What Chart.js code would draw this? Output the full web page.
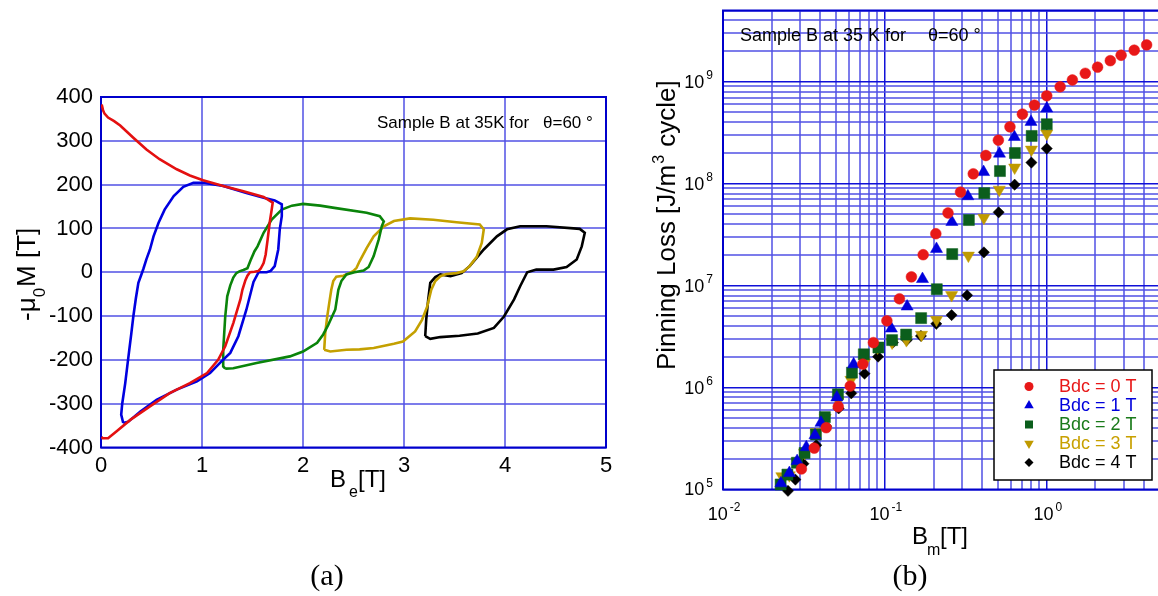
<!DOCTYPE html>
<html>
<head>
<meta charset="utf-8">
<script src="https://cdn.jsdelivr.net/npm/chart.js@4/dist/chart.umd.min.js"></script>
<style>
  html, body { margin: 0; padding: 0; background: #fff; overflow: hidden; width: 1158px; height: 596px; }
  #wrap { position: relative; width: 1158px; height: 596px; overflow: hidden; }
  #left { position: absolute; left: 0; top: 0; }
  #right { position: absolute; left: 640px; top: 0; }
</style>
</head>
<body>
<div id="wrap">
  <canvas id="left" width="640" height="596"></canvas>
  <canvas id="right" width="530" height="596"></canvas>
</div>
<script>
// ---------------- DATA: panel (a) hysteresis loops (B_e [T], -mu0 M [T]) ----------------
const redB = [0.007, 0.02, 0.035, 0.07, 0.13, 0.19, 0.32, 0.45, 0.58, 0.75, 0.88, 1.01, 1.21, 1.41, 1.61, 1.70,
  1.69, 1.67, 1.65, 1.63, 1.61, 1.58, 1.56, 1.52, 1.475, 1.45, 1.43, 1.40, 1.38, 1.31, 1.23, 1.16, 1.05, 0.88, 0.68, 0.485, 0.29, 0.155, 0.07, 0.017, 0.005];
const redM = [383, 370, 362, 353, 345, 335, 307, 280, 258, 235, 221, 210, 197, 185, 172, 159,
  143, 113, 75, 40, 21, 8, 3, 1, 0, -8, -18, -40, -62, -116, -169, -200, -230, -253, -276, -306, -337, -363, -379, -379, -376];

const blueB = [0.22, 0.20, 0.21, 0.24, 0.26, 0.28, 0.30, 0.32, 0.345, 0.37, 0.40, 0.42, 0.45, 0.485, 0.52, 0.57, 0.63, 0.72, 0.815, 0.915, 1.03, 1.21, 1.44, 1.61, 1.72, 1.79,
  1.79, 1.77, 1.755, 1.72, 1.68, 1.64, 1.56, 1.51, 1.49, 1.44, 1.36, 1.28, 1.195, 1.08, 0.95, 0.75, 0.55, 0.39, 0.27, 0.22];
const blueM = [-344, -325, -300, -253, -215, -177, -140, -101, -60, -24, -5, 8, 30, 52, 82, 113, 143, 174, 195, 204, 204, 197, 181, 170, 164, 155,
  128, 98, 52, 14, 3, 0, 0, -22, -40, -85, -146, -184, -203, -230, -249, -268, -291, -318, -341, -344];

const greenB = [1.23, 1.21, 1.21, 1.23, 1.25, 1.28, 1.31, 1.34, 1.37, 1.41, 1.45, 1.48, 1.52, 1.55, 1.61, 1.69, 1.79, 1.89, 2.0, 2.17, 2.31, 2.63, 2.76, 2.80,
  2.78, 2.75, 2.70, 2.65, 2.60, 2.51, 2.43, 2.38, 2.35, 2.32, 2.25, 2.20, 2.14, 2.0, 1.87, 1.54, 1.31, 1.23];
const greenM = [-220, -215, -177, -101, -55, -30, -12, -2, 2, 5, 9, 27, 48, 59, 90, 120, 143, 152, 156, 152, 147, 136, 128, 116,
  105, 75, 37, 12, 4, 0, -5, -20, -40, -85, -120, -142, -161, -181, -192, -207, -219, -220];

const goldB = [2.21, 2.22, 2.24, 2.26, 2.28, 2.30, 2.33, 2.40, 2.45, 2.50, 2.53, 2.56, 2.63, 2.70, 2.80, 2.90, 3.06, 3.29, 3.52, 3.75, 3.79,
  3.77, 3.72, 3.65, 3.59, 3.52, 3.42, 3.36, 3.31, 3.27, 3.23, 3.18, 3.11, 2.99, 2.90, 2.70, 2.56, 2.43, 2.27, 2.21];
const goldM = [-177, -139, -101, -70, -40, -20, -10, -8, -3, 3, 10, 25, 55, 82, 105, 117, 123, 120, 114, 109, 98,
  67, 35, 14, 2, -2, -4, -9, -20, -40, -78, -108, -135, -158, -163, -173, -176, -177, -181, -177];

const blackB = [3.21, 3.22, 3.24, 3.26, 3.31, 3.36, 3.46, 3.52, 3.57, 3.65, 3.79, 3.92, 4.02, 4.15, 4.41, 4.74, 4.79,
  4.76, 4.71, 4.61, 4.48, 4.31, 4.22, 4.15, 4.09, 3.99, 3.89, 3.73, 3.55, 3.36, 3.26, 3.21];
const blackM = [-146, -108, -62, -24, -11, -5, -9, -5, -2, 14, 52, 82, 98, 105, 105, 99, 90,
  59, 29, 12, 6, 6, 0, -32, -62, -101, -127, -140, -145, -148, -152, -146];

const leftXTicks = [0, 1, 2, 3, 4, 5];
const leftYTicks = [-400, -300, -200, -100, 0, 100, 200, 300, 400];

// ---------------- DATA: panel (b) pinning loss (B_m [T], J/m^3 cycle) ----------------
const seriesNames = ['Bdc = 0 T', 'Bdc = 1 T', 'Bdc = 2 T', 'Bdc = 3 T', 'Bdc = 4 T'];

const bm0 = [0.0305, 0.0366, 0.0434, 0.0515, 0.0611, 0.0731, 0.0849, 0.1029, 0.123, 0.1459, 0.1724, 0.2064, 0.2455, 0.2934, 0.3516, 0.4207, 0.5024, 0.5925, 0.7072, 0.8392, 1.0, 1.21, 1.44, 1.73, 2.06, 2.47, 2.88, 3.47, 4.14];
const loss0 = [1.59e5, 2.55e5, 4.04e5, 6.5e5, 1.035e6, 1.70e6, 2.76e6, 4.52e6, 7.43e6, 1.22e7, 2.01e7, 3.23e7, 5.16e7, 8.27e7, 1.25e8, 1.89e8, 2.67e8, 3.61e8, 4.81e8, 5.9e8, 7.28e8, 8.93e8, 1.04e9, 1.21e9, 1.39e9, 1.61e9, 1.82e9, 2.04e9, 2.3e9];

const bm1 = [0.0228, 0.0257, 0.0287, 0.0327, 0.0370, 0.0403, 0.0505, 0.0641, 0.1097, 0.1372, 0.1707, 0.2084, 0.2593, 0.3256, 0.4073, 0.5103, 0.631, 0.7994, 1.0];
const loss1 = [1.15e5, 1.45e5, 1.9e5, 2.6e5, 3.4e5, 4.51e5, 8.0e5, 1.69e6, 3.79e6, 6.24e6, 1.16e7, 2.29e7, 4.21e7, 7.53e7, 1.30e8, 1.97e8, 2.87e8, 4.04e8, 5.47e8];

const bm2 = [0.0227, 0.0250, 0.0286, 0.0319, 0.0375, 0.0426, 0.0513, 0.0626, 0.0741, 0.0912, 0.1108, 0.1353, 0.1675, 0.2093, 0.2607, 0.3303, 0.4113, 0.514, 0.636, 0.807, 1.0];
const loss2 = [1.12e5, 1.40e5, 1.83e5, 2.28e5, 3.46e5, 5.13e5, 8.58e5, 1.40e6, 2.12e6, 2.47e6, 2.92e6, 3.31e6, 4.8e6, 9.22e6, 2.04e7, 4.4e7, 8.08e7, 1.33e8, 2.0e8, 2.94e8, 3.83e8];

const bm3 = [0.0231, 0.0257, 0.0286, 0.0319, 0.0375, 0.0428, 0.0515, 0.0617, 0.0749, 0.0902, 0.1108, 0.1358, 0.1683, 0.2084, 0.2584, 0.328, 0.409, 0.509, 0.6335, 0.804, 1.0];
const loss3 = [1.35e5, 1.38e5, 1.86e5, 2.28e5, 3.67e5, 5.05e5, 7.48e5, 1.19e6, 1.77e6, 2.47e6, 2.76e6, 2.92e6, 3.29e6, 4.62e6, 8.08e6, 1.97e7, 4.63e7, 8.73e7, 1.44e8, 2.16e8, 3.1e8];

const bm4 = [0.0252, 0.0280, 0.0314, 0.0377, 0.0434, 0.0518, 0.0620, 0.0749, 0.0908, 0.1121, 0.1368, 0.167, 0.2078, 0.2584, 0.322, 0.409, 0.5046, 0.6335, 0.804, 1.0];
const loss4 = [9.7e4, 1.25e5, 1.79e5, 2.72e5, 4.18e5, 6.24e5, 8.77e5, 1.37e6, 2.01e6, 2.76e6, 2.93e6, 3.21e6, 4.22e6, 5.14e6, 8.03e6, 2.12e7, 5.24e7, 9.78e7, 1.61e8, 2.21e8];

const rightXDecades = [0.01, 0.1, 1];
const rightYDecades = [1e5, 1e6, 1e7, 1e8, 1e9];
const logMultipliers = [1, 2, 3, 4, 5, 6, 7, 8, 9];
const rightXMax = 5, rightYMax = 5e9;

// ---------------- styling ----------------
const FONT = '"Liberation Sans", Arial, Helvetica, sans-serif';
const SERIF = '"Liberation Serif", "Times New Roman", serif';
const GRID = 'rgba(80,80,228,0.75)';
const AXIS = '#0000cc';

function pts(xs, ys) { return xs.map((v, i) => ({ x: v, y: ys[i] })); }
function isDecade(v) { const l = Math.log10(v); return Math.abs(l - Math.round(l)) < 1e-9; }
function logTicks(decades, max) {
  const out = [];
  decades.forEach(d => logMultipliers.forEach(m => { const v = d * m; if (v <= max * 1.0000001) out.push({ value: v }); }));
  const lastDec = decades[decades.length - 1] * 10;
  if (lastDec <= max) out.push({ value: lastDec });
  return out;
}

// ================= LEFT CHART =================
const leftCurves = [
  { B: redB, M: redM, color: '#e41010' },
  { B: blueB, M: blueM, color: '#0000e0' },
  { B: greenB, M: greenM, color: '#0a840a' },
  { B: goldB, M: goldM, color: '#c4a000' },
  { B: blackB, M: blackM, color: '#000000' }
];

const leftDeco = {
  id: 'leftDeco',
  beforeDatasetsDraw(chart) {
    const { ctx, chartArea: a } = chart;
    ctx.save();
    ctx.strokeStyle = AXIS; ctx.lineWidth = 2;
    ctx.strokeRect(a.left, a.top, a.right - a.left, a.bottom - a.top);
    ctx.restore();
  },
  afterDraw(chart) {
    const { ctx } = chart;
    ctx.save();
    ctx.fillStyle = '#000';
    ctx.textBaseline = 'middle';
    // annotation
    ctx.font = '17px ' + FONT;
    ctx.textAlign = 'left';
    ctx.fillText('Sample B at 35K for', 377, 123);
    ctx.fillText('\u03B8=60 \u00B0', 543, 123);
    // x title  B_e [T]
    ctx.font = '24px ' + FONT;
    ctx.fillText('B', 330, 480);
    let w = ctx.measureText('B').width;
    ctx.font = '16px ' + FONT;
    ctx.fillText('e', 330 + w + 3, 493);
    ctx.font = '24px ' + FONT;
    ctx.fillText('[T]', 358, 480);
    // y title  -mu_0 M [T]
    ctx.translate(28, 321);
    ctx.rotate(-Math.PI / 2);
    ctx.font = '26px ' + FONT;
    ctx.fillText('-\u03BC', 0, 0);
    w = ctx.measureText('-\u03BC').width;
    ctx.font = '17px ' + FONT;
    ctx.fillText('0', w, 12);
    const w2 = ctx.measureText('0').width;
    ctx.font = '26px ' + FONT;
    ctx.fillText('M [T]', w + w2 + 1, 0);
    ctx.restore();
    // caption
    ctx.save();
    ctx.fillStyle = '#000';
    ctx.font = '30px ' + SERIF;
    ctx.textAlign = 'center';
    ctx.textBaseline = 'middle';
    ctx.fillText('(a)', 327, 577);
    ctx.restore();
  }
};

new Chart(document.getElementById('left'), {
  type: 'scatter',
  data: {
    datasets: leftCurves.map(c => ({
      data: pts(c.B, c.M),
      showLine: true,
      borderColor: c.color,
      backgroundColor: c.color,
      borderWidth: 2.6,
      pointRadius: 0,
      tension: 0,
      fill: false
    }))
  },
  options: {
    responsive: false,
    devicePixelRatio: 1,
    animation: false,
    layout: { padding: { left: 0, top: 97, right: 34, bottom: 0 } },
    plugins: { legend: { display: false }, tooltip: { enabled: false } },
    scales: {
      x: {
        type: 'linear', min: 0, max: 5,
        afterBuildTicks: s => { s.ticks = leftXTicks.map(v => ({ value: v })); },
        afterFit: s => { s.height = 148.5; },
        grid: { color: GRID, lineWidth: 2, drawTicks: false },
        border: { display: false },
        ticks: { color: '#000', font: { size: 22, family: FONT }, padding: 5, maxRotation: 0, autoSkip: false }
      },
      y: {
        type: 'linear', min: -400, max: 400,
        afterBuildTicks: s => { s.ticks = leftYTicks.map(v => ({ value: v })); },
        afterFit: s => { s.width = 101; },
        grid: { color: GRID, lineWidth: 2, drawTicks: false },
        border: { display: false },
        ticks: { color: '#000', font: { size: 22, family: FONT }, padding: 8, autoSkip: false }
      }
    }
  },
  plugins: [leftDeco]
});

// ================= RIGHT CHART =================
const rightSeries = [
  { B: bm0, L: loss0, color: '#e81818', text: '#e81818', style: 'circle', r: 5.4, rot: 0 },
  { B: bm1, L: loss1, color: '#0000dc', text: '#0000dc', style: 'triangle', r: 7, rot: 0 },
  { B: bm2, L: loss2, color: '#0b5e1c', text: '#1a7a1a', style: 'rect', r: 7.8, rot: 0 },
  { B: bm3, L: loss3, color: '#c09a00', text: '#c8a000', style: 'triangle', r: 7, rot: 180 },
  { B: bm4, L: loss4, color: '#000000', text: '#000000', style: 'rectRot', r: 5.6, rot: 0 }
];

function drawPow(ctx, exp, x, y, align) {
  ctx.font = '18px ' + FONT;
  const wb = ctx.measureText('10').width;
  ctx.font = '12px ' + FONT;
  const we = ctx.measureText(exp).width;
  const gap = 2;
  const total = wb + gap + we;
  const x0 = align === 'right' ? x - total : (align === 'center' ? x - total / 2 : x);
  ctx.textAlign = 'left';
  ctx.textBaseline = 'middle';
  ctx.font = '18px ' + FONT;
  ctx.fillText('10', x0, y);
  ctx.font = '12px ' + FONT;
  ctx.fillText(exp, x0 + wb + gap, y - 7);
}

function marker(ctx, style, x, y, r, rot, color) {
  ctx.save();
  ctx.fillStyle = color;
  ctx.beginPath();
  if (style === 'circle') {
    ctx.arc(x, y, r, 0, Math.PI * 2);
  } else if (style === 'triangle') {
    const s = rot ? -1 : 1;
    ctx.moveTo(x, y - s * r);
    ctx.lineTo(x + r * 0.866, y + s * r * 0.5);
    ctx.lineTo(x - r * 0.866, y + s * r * 0.5);
    ctx.closePath();
  } else if (style === 'rect') {
    ctx.rect(x - r, y - r, 2 * r, 2 * r);
  } else if (style === 'rectRot') {
    ctx.moveTo(x, y - r); ctx.lineTo(x + r, y); ctx.lineTo(x, y + r); ctx.lineTo(x - r, y);
    ctx.closePath();
  }
  ctx.fill();
  ctx.restore();
}

const rightDeco = {
  id: 'rightDeco',
  beforeDatasetsDraw(chart) {
    const { ctx, chartArea: a } = chart;
    ctx.save();
    ctx.strokeStyle = AXIS; ctx.lineWidth = 2;
    ctx.strokeRect(a.left, a.top, a.right - a.left, a.bottom - a.top);
    ctx.restore();
  },
  afterDraw(chart) {
    const { ctx, chartArea: a, scales } = chart;
    const xs = scales.x, ys = scales.y;
    ctx.save();
    ctx.fillStyle = '#000';
    // tick labels
    rightYDecades.forEach(v => {
      drawPow(ctx, String(Math.round(Math.log10(v))), a.left - 10, ys.getPixelForValue(v) + 1, 'right');
    });
    rightXDecades.forEach(v => {
      drawPow(ctx, String(Math.round(Math.log10(v))), xs.getPixelForValue(v) + 1, 515, 'center');
    });
    // annotation
    ctx.textAlign = 'left'; ctx.textBaseline = 'middle';
    ctx.font = '18px ' + FONT;
    ctx.fillText('Sample B at 35 K for', 100, 36);
    ctx.fillText('\u03B8=60 \u00B0', 288, 36);
    // x title B_m [T]
    ctx.font = '24px ' + FONT;
    ctx.fillText('B', 272, 537);
    ctx.font = '16px ' + FONT;
    ctx.fillText('m', 287, 551);
    ctx.font = '24px ' + FONT;
    ctx.fillText('[T]', 300, 537);
    // y title
    ctx.save();
    ctx.translate(35, 370);
    ctx.rotate(-Math.PI / 2);
    ctx.font = '26px ' + FONT;
    ctx.textBaseline = 'alphabetic';
    const t1 = 'Pinning Loss [J/m';
    ctx.fillText(t1, 0, 0);
    let w = ctx.measureText(t1).width;
    ctx.font = '16px ' + FONT;
    ctx.fillText('3', w + 1, -11);
    w += ctx.measureText('3').width + 2;
    ctx.font = '26px ' + FONT;
    ctx.fillText(' cycle]', w, 0);
    ctx.restore();
    // legend
    ctx.fillStyle = '#fff';
    ctx.fillRect(354, 370, 158, 110);
    ctx.strokeStyle = '#000'; ctx.lineWidth = 1.5;
    ctx.strokeRect(354, 370, 158, 110);
    const lr = [4.5, 5.5, 4, 5.5, 4.5];
    rightSeries.forEach((s, i) => {
      const yy = 386.5 + i * 19;
      marker(ctx, s.style, 389, yy, lr[i], s.rot, s.color);
      ctx.fillStyle = s.text;
      ctx.font = '18px ' + FONT;
      ctx.textAlign = 'left'; ctx.textBaseline = 'middle';
      ctx.fillText(seriesNames[i], 419, yy + 1);
    });
    // caption
    ctx.fillStyle = '#000';
    ctx.font = '30px ' + SERIF;
    ctx.textAlign = 'center';
    ctx.fillText('(b)', 270, 577);
    ctx.restore();
  }
};

const rGridColor = c => isDecade(c.tick.value) ? '#1010d8' : GRID;
const rGridWidth = c => isDecade(c.tick.value) ? 1.5 : 2;

new Chart(document.getElementById('right'), {
  type: 'scatter',
  data: {
    datasets: rightSeries.map((s, i) => ({
      label: seriesNames[i],
      data: pts(s.B, s.L),
      pointStyle: s.style,
      pointRadius: s.r,
      pointRotation: s.rot,
      backgroundColor: s.color,
      borderColor: s.color,
      borderWidth: 0.5,
      showLine: false,
      clip: false
    }))
  },
  options: {
    responsive: false,
    devicePixelRatio: 1,
    animation: false,
    layout: { padding: { left: 0, top: 10.5, right: 10.1, bottom: 0 } },
    plugins: { legend: { display: false }, tooltip: { enabled: false } },
    scales: {
      x: {
        type: 'logarithmic', min: 0.01, max: rightXMax,
        afterBuildTicks: s => { s.ticks = logTicks(rightXDecades, rightXMax); },
        afterFit: s => { s.height = 106.5; },
        grid: { color: rGridColor, lineWidth: rGridWidth, drawTicks: false },
        border: { display: false },
        ticks: { display: false }
      },
      y: {
        type: 'logarithmic', min: 1e5, max: rightYMax,
        afterBuildTicks: s => { s.ticks = logTicks(rightYDecades, rightYMax); },
        afterFit: s => { s.width = 83; },
        grid: { color: rGridColor, lineWidth: rGridWidth, drawTicks: false },
        border: { display: false },
        ticks: { display: false }
      }
    }
  },
  plugins: [rightDeco]
});
</script>
</body>
</html>
